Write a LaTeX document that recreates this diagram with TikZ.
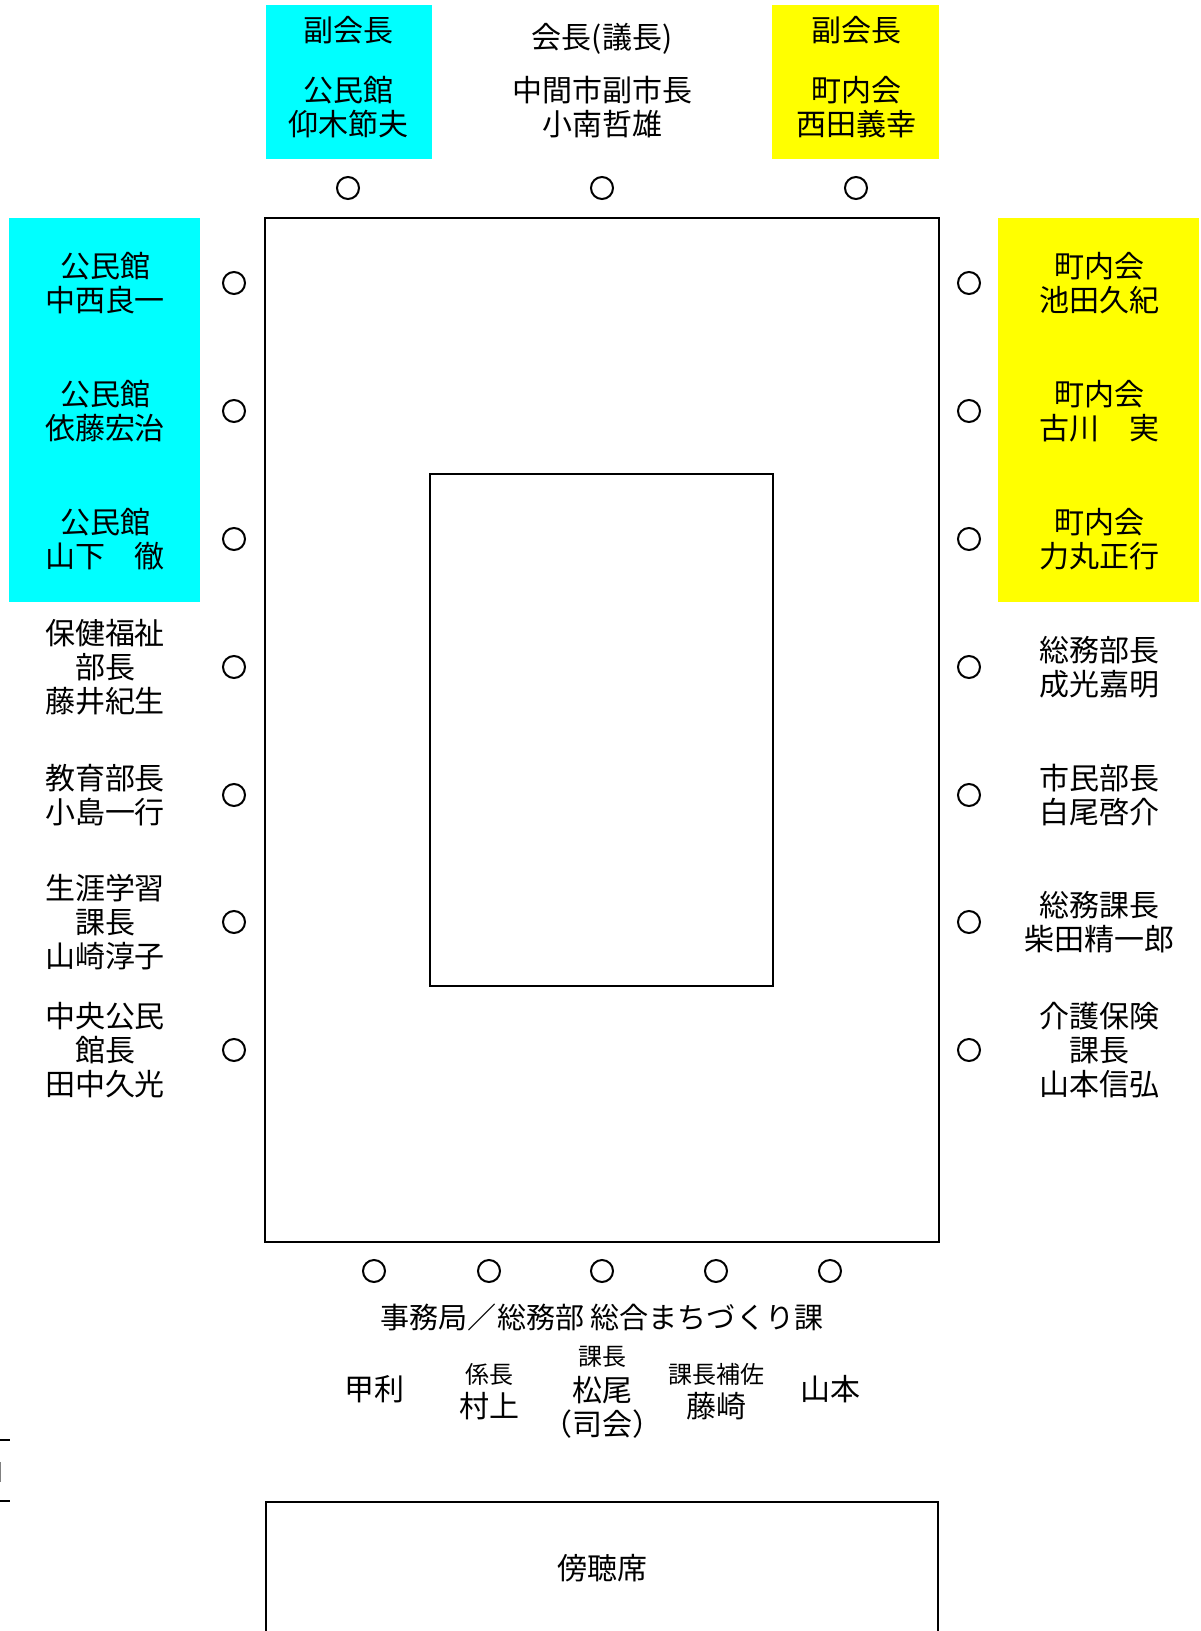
\documentclass[tikz,border=0pt]{standalone}
\usepackage{fontspec}
\setmainfont{Noto Sans CJK JP}
\definecolor{cy}{HTML}{00FFFF}
\definecolor{ye}{HTML}{FFFF00}
\begin{document}
\begin{tikzpicture}[x=0.75pt,y=-0.75pt,
  lbl/.style={align=center,inner sep=0pt,font=\fontsize{22.5}{25.5}\selectfont},
  sml/.style={align=center,inner sep=0pt,font=\fontsize{18}{20}\selectfont},
  seat/.style={circle,draw,line width=1.5pt,minimum size=16.5pt,inner sep=0pt},
  frame/.style={line width=2.2pt}]
\useasboundingbox (0,0) rectangle (1200,1631);
\fill[white] (0,0) rectangle (1200,1631);
% coloured boxes
\fill[cy] (266,5) rectangle (432,159);
\fill[ye] (772,5) rectangle (939,159);
\fill[cy] (9,218) rectangle (200,602);
\fill[ye] (998,218) rectangle (1199,602);
% tables
\draw[frame] (265,218) rectangle (939,1242);
\draw[line width=1.9pt] (430,474) rectangle (773,986);
\draw[frame] (266,1640) -- (266,1502) -- (938,1502) -- (938,1640);
\draw[line width=2pt] (0,1440) -- (10,1440);
\draw[line width=2pt] (0,1501) -- (10,1501);
\draw[gray,line width=1pt] (0.5,1462) -- (0.5,1482);
% top
\node[lbl] (t1a) at (348,30) {副会長};
\node[lbl] (t1b) at (348,107) {公民館\\仰木節夫};
\node[lbl] (t2a) at (602,39) {会長(議長)};
\node[lbl] (t2b) at (602,107) {中間市副市長\\小南哲雄};
\node[lbl] (t3a) at (856,30) {副会長};
\node[lbl] (t3b) at (856,107) {町内会\\西田義幸};
\node[seat] (ct1) at (348,188) {};
\node[seat] (ct2) at (602,188) {};
\node[seat] (ct3) at (856,188) {};
% left
\node[lbl] (l1) at (105,283) {公民館\\中西良一};
\node[lbl] (l2) at (105,411) {公民館\\依藤宏治};
\node[lbl] (l3) at (105,539) {公民館\\山下\quad 徹};
\node[lbl] (l4) at (105,667) {保健福祉\\部長\\藤井紀生};
\node[lbl] (l5) at (105,795) {教育部長\\小島一行};
\node[lbl] (l6) at (105,922) {生涯学習\\課長\\山崎淳子};
\node[lbl] (l7) at (105,1050) {中央公民\\館長\\田中久光};
% right
\node[lbl] (r1) at (1099,283) {町内会\\池田久紀};
\node[lbl] (r2) at (1099,411) {町内会\\古川\quad 実};
\node[lbl] (r3) at (1099,539) {町内会\\力丸正行};
\node[lbl] (r4) at (1099,667) {総務部長\\成光嘉明};
\node[lbl] (r5) at (1099,795) {市民部長\\白尾啓介};
\node[lbl] (r6) at (1099,922) {総務課長\\柴田精一郎};
\node[lbl] (r7) at (1099,1050) {介護保険\\課長\\山本信弘};
\foreach \i/\y in {1/283,2/411,3/539,4/667,5/795,6/922,7/1050}{
  \node[seat] (cl\i) at (234,\y) {};
  \node[seat] (cr\i) at (969,\y) {};
}
% bottom
\foreach \i/\x in {1/374,2/489,3/602,4/716,5/830}{
  \node[seat] (cb\i) at (\x,1271) {};
}
\node[lbl,font=\fontsize{21.8}{25}\selectfont] (jim) at (602,1317) {事務局／総務部 総合まちづくり課};
\node[lbl] (b1) at (374,1389) {甲利};
\node[sml] (b2a) at (489,1374) {係長};
\node[lbl] (b2b) at (489,1406) {村上};
\node[sml] (b3a) at (602,1357) {課長};
\node[lbl] (b3b) at (602,1407) {松尾\\（司会）};
\node[sml] (b4a) at (716,1374) {課長補佐};
\node[lbl] (b4b) at (716,1406) {藤崎};
\node[lbl] (b5) at (830,1389) {山本};
\node[lbl] (bo) at (602,1568) {傍聴席};
\end{tikzpicture}
\end{document}
